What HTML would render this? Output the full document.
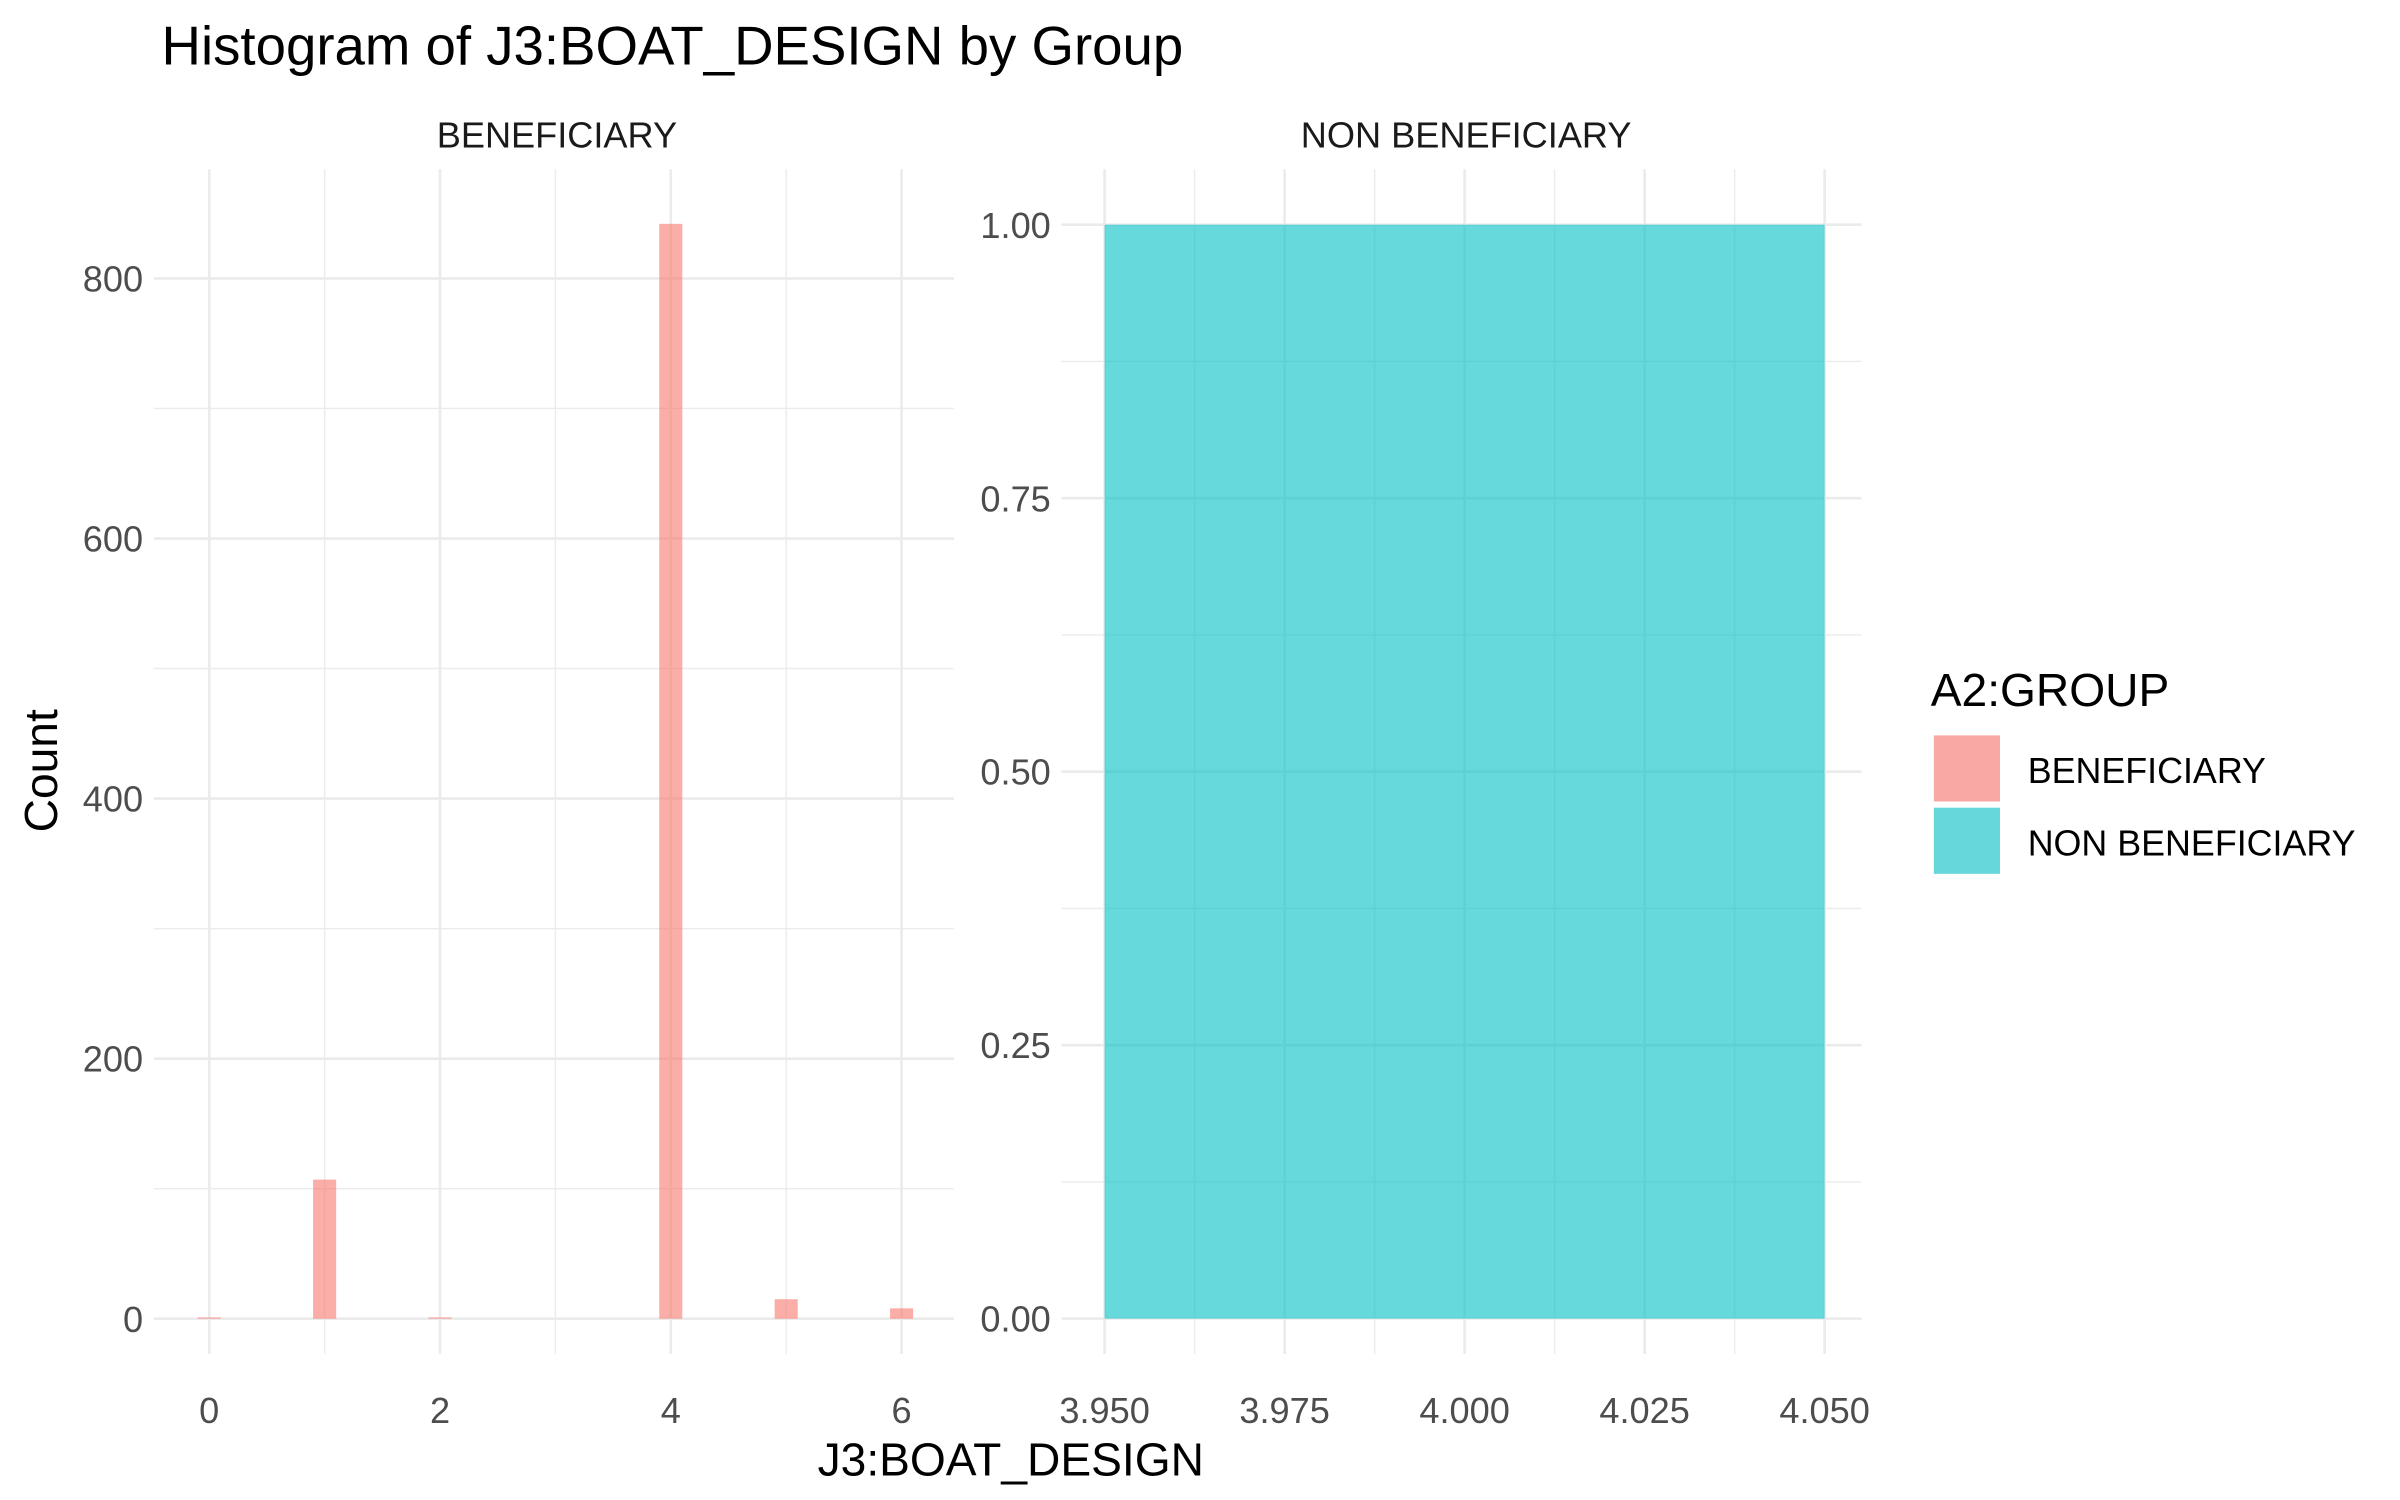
<!DOCTYPE html>
<html><head><meta charset="utf-8"><style>
html,body{margin:0;padding:0;background:#fff;}
svg{display:block;}
text{font-family:"Liberation Sans",Arial,sans-serif;}
</style></head><body>
<svg id="chart" width="2400" height="1500" viewBox="0 0 1560 975" xmlns="http://www.w3.org/2000/svg">
<rect width="1560" height="975" fill="#fff"/>
<text x="105" y="42" font-size="35.5" fill="#000">Histogram of J3:BOAT_DESIGN by Group</text>
<text x="362" y="96" font-size="23.5" text-anchor="middle" fill="#1a1a1a">BENEFICIARY</text>
<text x="953" y="96" font-size="23.5" text-anchor="middle" fill="#1a1a1a">NON BENEFICIARY</text>
<text x="657" y="959" font-size="30" text-anchor="middle" fill="#000">J3:BOAT_DESIGN</text>
<text transform="translate(37,501) rotate(-90)" font-size="30" text-anchor="middle" fill="#000">Count</text>
<g id="left"></g>
<g id="right"></g>
<g>
<text x="1255" y="459" font-size="30" fill="#000">A2:GROUP</text>
<rect x="1257" y="478" width="43" height="43" fill="#F9A9A3"/>
<text x="1318" y="509" font-size="23.3" fill="#000">BENEFICIARY</text>
<rect x="1257" y="525" width="43" height="43" fill="#66D8DC"/>
<text x="1318" y="556" font-size="23.3" fill="#000">NON BENEFICIARY</text>
</g>
</svg>
<script>
const leftBinCenters = [0, 1, 2, 4, 5, 6];
const leftCounts = [1, 107, 1, 842, 15, 8];
const leftXTicks = [0, 2, 4, 6];
const leftYTicks = [0, 200, 400, 600, 800];
const rightBinStart = [3.95];
const rightBinEnd = [4.05];
const rightCounts = [1];
const rightXTicks = [3.95, 3.975, 4.0, 4.025, 4.05];
const rightXTickLabels = ["3.950", "3.975", "4.000", "4.025", "4.050"];
const rightYTicks = [0, 0.25, 0.5, 0.75, 1.0];
const rightYTickLabels = ["0.00", "0.25", "0.50", "0.75", "1.00"];

const NS = "http://www.w3.org/2000/svg";
function mk(parent, tag, attrs) {
  const e = document.createElementNS(NS, tag);
  for (const k in attrs) e.setAttribute(k, attrs[k]);
  parent.appendChild(e);
  return e;
}
function linScale(d0, d1, r0, r1) { return v => r0 + (v - d0) * (r1 - r0) / (d1 - d0); }

const TOP = 110, BOT = 880;

function drawPanel(g, px0, px1, xDom, yDom, xTicks, xLabels, yTicks, yLabels) {
  const x = linScale(xDom[0], xDom[1], px0, px1);
  const y = linScale(yDom[0], yDom[1], BOT, TOP);
  for (let i = 0; i < yTicks.length - 1; i++) {
    const m = (yTicks[i] + yTicks[i + 1]) / 2;
    const l = mk(g, "line", {x1: px0, x2: px1, y1: y(m), y2: y(m), stroke: "#ebebeb", "stroke-width": 0.9});
    
    
  }
  for (let i = 0; i < xTicks.length - 1; i++) {
    const m = (xTicks[i] + xTicks[i + 1]) / 2;
    const l = mk(g, "line", {x1: x(m), x2: x(m), y1: TOP, y2: BOT, stroke: "#ebebeb", "stroke-width": 0.9});
    
    
  }
  yTicks.forEach((t, i) => {
    const l = mk(g, "line", {x1: px0, x2: px1, y1: y(t), y2: y(t), stroke: "#ebebeb", "stroke-width": 1.7});
    
    
    const tx = mk(g, "text", {x: px0 - 7, y: y(t) + 8.5, "font-size": 23.5, fill: "#4d4d4d", "text-anchor": "end"});
    tx.textContent = yLabels[i];
    
    
  });
  xTicks.forEach((t, i) => {
    const l = mk(g, "line", {x1: x(t), x2: x(t), y1: TOP, y2: BOT, stroke: "#ebebeb", "stroke-width": 1.7});
    
    
    const tx = mk(g, "text", {x: x(t), y: 925, "font-size": 23.5, fill: "#4d4d4d", "text-anchor": "middle"});
    tx.textContent = xLabels[i];
    
    
  });
  return {x, y};
}

const L = drawPanel(document.getElementById("left"), 100, 620, [-0.48, 6.453], [-27, 884],
  leftXTicks, leftXTicks.map(String), leftYTicks, leftYTicks.map(String));
leftBinCenters.forEach((c, i) => {
  const x0 = L.x(c - 0.1), x1 = L.x(c + 0.1);
  const r = mk(document.getElementById("left"), "rect", {x: x0, y: L.y(leftCounts[i]), width: x1 - x0, height: L.y(0) - L.y(leftCounts[i]), fill: "#F8766D", "fill-opacity": 0.6});
  
  
});

const R = drawPanel(document.getElementById("right"), 690, 1210, [3.94402, 4.05513], [-0.0322, 1.0507],
  rightXTicks, rightXTickLabels, rightYTicks, rightYTickLabels);
rightCounts.forEach((v, i) => {
  const x0 = R.x(rightBinStart[i]), x1 = R.x(rightBinEnd[i]);
  const r = mk(document.getElementById("right"), "rect", {x: x0, y: R.y(v), width: x1 - x0, height: R.y(0) - R.y(v), fill: "#00BFC4", "fill-opacity": 0.6});
  
  
});
</script>
</body></html>
